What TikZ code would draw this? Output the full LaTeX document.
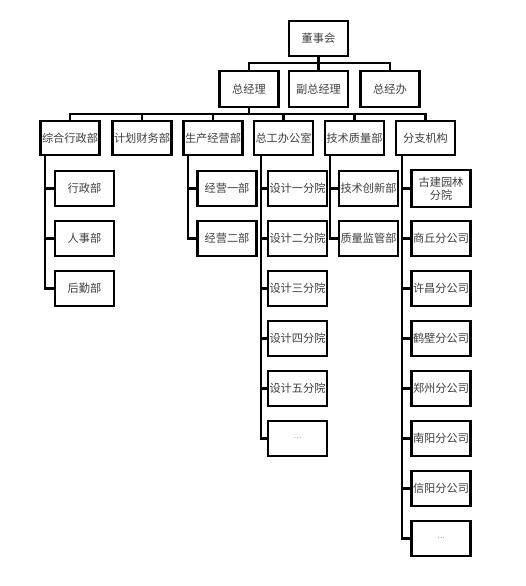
\documentclass[tikz,border=0pt]{standalone}
\usepackage{fontspec}
\newfontfamily\cjk{Noto Sans CJK SC}
\begin{document}
\begin{tikzpicture}[x=1pt,y=-1pt,
  box/.style={draw=black,line width=2.5pt,fill=white,minimum width=59pt,minimum height=35pt,inner sep=0pt,align=center,
    font=\cjk\fontsize{11.2}{13}\selectfont,text=black!75},
  conn/.style={draw=black,line width=2.2pt}]
\useasboundingbox[fill=white] (0,0) rectangle (525,586);
% top levels
\node[box] (dsh) at (318.5,38.5) {董事会};
\node[box,minimum height=36pt] (zjl) at (249,89) {总经理};
\node[box,minimum height=36pt] (fzjl) at (318.5,89) {副总经理};
\node[box,minimum height=36pt] (zjb) at (390,89) {总经办};
% second row
\node[box,minimum height=34pt] (zh) at (70,138) {综合行政部};
\node[box,minimum height=34pt] (jh) at (142,138) {计划财务部};
\node[box,minimum height=34pt] (sc) at (213,138) {生产经营部};
\node[box,minimum height=34pt] (zg) at (283.5,138) {总工办公室};
\node[box,minimum height=34pt] (js) at (354.5,138) {技术质量部};
\node[box,minimum height=34pt] (fz) at (425.5,138) {分支机构};
% children
\node[box] (zh1) at (84.5,188.5) {行政部};
\node[box] (zh2) at (84.5,238.5) {人事部};
\node[box] (zh3) at (84.5,288.5) {后勤部};
\node[box] (sc1) at (227,188.5) {经营一部};
\node[box] (sc2) at (227,238.5) {经营二部};
\node[box] (zg1) at (297.5,188.5) {设计一分院};
\node[box] (zg2) at (297.5,238.5) {设计二分院};
\node[box] (zg3) at (297.5,288.5) {设计三分院};
\node[box] (zg4) at (297.5,338.5) {设计四分院};
\node[box] (zg5) at (297.5,388.5) {设计五分院};
\node[box] (zg6) at (297.5,438.5) {\fontsize{7}{8}\selectfont …};
\node[box] (js1) at (368.5,188.5) {技术创新部};
\node[box] (js2) at (368.5,238.5) {质量监管部};
\node[box,minimum height=37pt] (fz1) at (441,188.5) {古建园林\\分院};
\node[box] (fz2) at (441,238.5) {商丘分公司};
\node[box] (fz3) at (441,288.5) {许昌分公司};
\node[box] (fz4) at (441,338.5) {鹤壁分公司};
\node[box] (fz5) at (441,388.5) {郑州分公司};
\node[box] (fz6) at (441,438.5) {南阳分公司};
\node[box] (fz7) at (441,488.5) {信阳分公司};
\node[box] (fz8) at (441,538.5) {\fontsize{7}{8}\selectfont …};
% connectors top
\coordinate (bus1) at (318.5,63);
\draw[conn] (dsh.south) -- (bus1);
\draw[conn] (zjl.north) |- (bus1);
\draw[conn] (fzjl.north) -- (bus1);
\draw[conn] (zjb.north) |- (bus1);
\coordinate (bus2) at (249,114);
\draw[conn] (zjl.south) -- (bus2);
\foreach \n in {zh,jh,sc,zg,js,fz}{\draw[conn] (\n.north) |- (bus2);}
% child connectors
\foreach \c in {zh1,zh2,zh3}{\draw[conn] ([xshift=6pt]zh.south west) |- (\c.west);}
\foreach \c in {sc1,sc2}{\draw[conn] ([xshift=6pt]sc.south west) |- (\c.west);}
\foreach \c in {zg1,zg2,zg3,zg4,zg5,zg6}{\draw[conn] ([xshift=8pt]zg.south west) |- (\c.west);}
\foreach \c in {js1,js2}{\draw[conn] ([xshift=6pt]js.south west) |- (\c.west);}
\foreach \c in {fz1,fz2,fz3,fz4,fz5,fz6,fz7,fz8}{\draw[conn] ([xshift=7pt]fz.south west) |- (\c.west);}
\end{tikzpicture}
\end{document}
